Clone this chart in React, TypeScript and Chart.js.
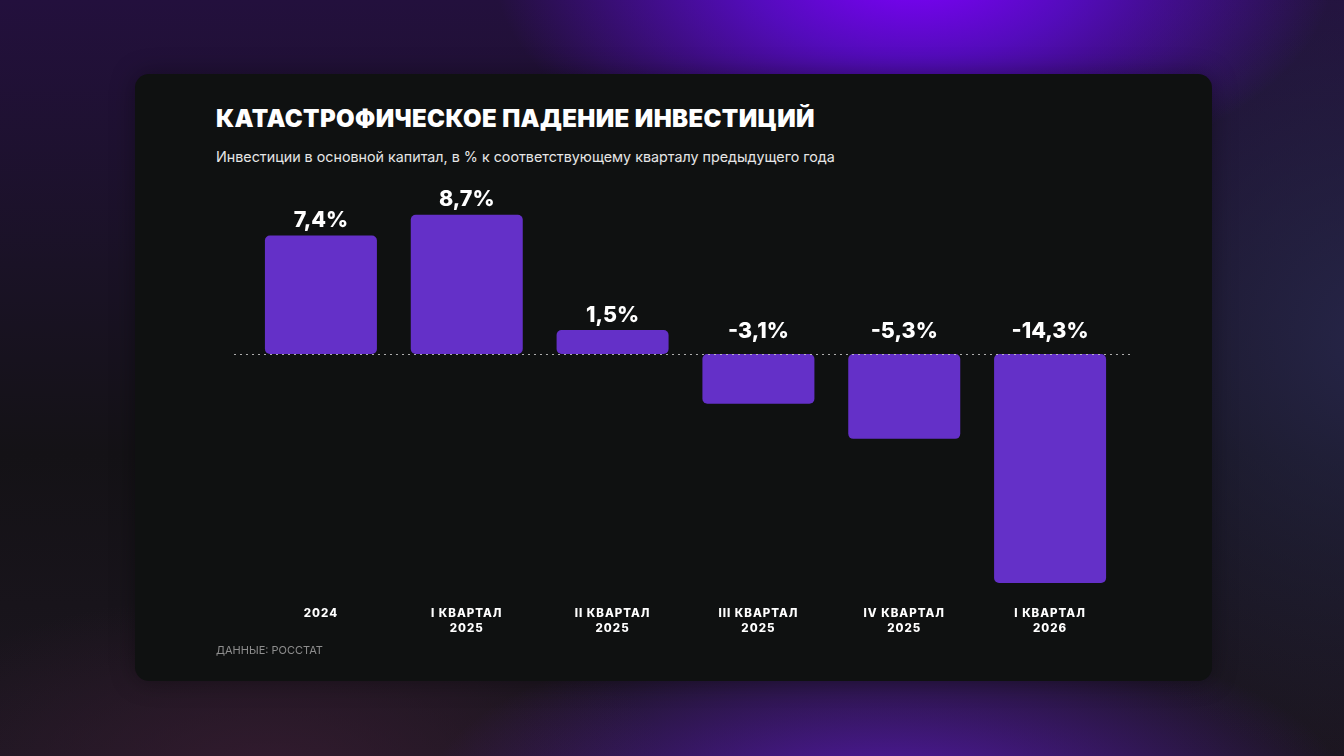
import React, { useEffect, useRef } from "react";
import { Chart, registerables } from "chart.js";

Chart.register(...registerables);

const title = "КАТАСТРОФИЧЕСКОЕ ПАДЕНИЕ ИНВЕСТИЦИЙ";
const subtitle = "Инвестиции в основной капитал, в % к соответствующему кварталу предыдущего года";
const source = "ДАННЫЕ: РОССТАТ";

const categories: string[][] = [
  ["2024"],
  ["I КВАРТАЛ", "2025"],
  ["II КВАРТАЛ", "2025"],
  ["III КВАРТАЛ", "2025"],
  ["IV КВАРТАЛ", "2025"],
  ["I КВАРТАЛ", "2026"],
];
const values: number[] = [7.4, 8.7, 1.5, -3.1, -5.3, -14.3];

const BAR_COLOR = "#6430c8";
const FONT = "Inter, 'Noto Sans', sans-serif";

const fmt = (v: number) => v.toFixed(1).replace(".", ",") + "%";

const overlayPlugin = {
  id: "overlay",
  beforeDraw(chart: any) {
    chart.ctx.letterSpacing = "1px";
  },
  beforeDatasetsDraw(chart: any) {
    chart.ctx.letterSpacing = "0px";
  },
  afterDatasetsDraw(chart: any) {
    const { ctx, chartArea } = chart;
    const y = chart.scales.y.getPixelForValue(0);
    ctx.save();
    ctx.letterSpacing = "0px";
    ctx.strokeStyle = "rgba(200,200,200,0.85)";
    ctx.lineWidth = 1;
    ctx.setLineDash([2, 4]);
    ctx.beginPath();
    ctx.moveTo(chartArea.left - 14, Math.round(y) + 0.5);
    ctx.lineTo(chartArea.right + 9, Math.round(y) + 0.5);
    ctx.stroke();
    ctx.setLineDash([]);

    const meta = chart.getDatasetMeta(0);
    ctx.fillStyle = "#ffffff";
    ctx.font = `800 21.5px ${FONT}`;
    ctx.textAlign = "center";
    ctx.textBaseline = "middle";
    meta.data.forEach((bar: any, i: number) => {
      const v = values[i];
      const ty = v >= 0 ? bar.y - 15 : y - 23;
      ctx.fillText(fmt(v), bar.x, ty);
    });
    ctx.restore();
  },
};

export default function App() {
  const ref = useRef<HTMLCanvasElement | null>(null);

  useEffect(() => {
    if (!ref.current) return;
    const chart = new Chart(ref.current, {
      type: "bar",
      data: {
        labels: categories,
        datasets: [
          {
            data: values,
            backgroundColor: BAR_COLOR,
            borderRadius: 5,
            borderSkipped: false,
            categoryPercentage: 1,
            barPercentage: 0.768,
          },
        ],
      },
      options: {
        animation: false,
        responsive: true,
        maintainAspectRatio: false,
        layout: { padding: { left: 113, right: 89, top: 24, bottom: 6 } },
        plugins: {
          legend: { display: false },
          tooltip: { enabled: false },
        },
        scales: {
          x: {
            grid: { display: false, drawTicks: false },
            border: { display: false },
            ticks: {
              color: "#ffffff",
              padding: 12,
              font: { family: FONT, size: 11.5, weight: 800, lineHeight: 1.3 },
            },
          },
          y: {
            display: false,
            min: -15,
            max: 10,
            grid: { display: false },
          },
        },
      },
      plugins: [overlayPlugin],
    });
    return () => chart.destroy();
  }, []);

  return (
    <div
      style={{
        position: "fixed",
        inset: 0,
        overflow: "hidden",
        background:
          "radial-gradient(ellipse 420px 220px at 68% -30px, rgba(128,0,255,1) 0%, rgba(100,10,230,0.75) 40%, rgba(60,10,140,0) 100%)," +
          "radial-gradient(ellipse 460px 170px at 66% 105%, rgba(95,25,200,0.8) 0%, rgba(60,20,130,0) 100%)," +
          "radial-gradient(ellipse 380px 420px at 102% 45%, rgba(40,40,78,0.85) 0%, rgba(30,30,60,0) 100%)," +
          "radial-gradient(ellipse 400px 180px at 20% 102%, rgba(55,28,50,0.8) 0%, rgba(40,20,40,0) 100%)," +
          "linear-gradient(180deg, #23103d 0%, #1a1226 35%, #141216 60%, #1c1620 100%)",
        fontFamily: FONT,
      }}
    >
      <div
        style={{
          position: "absolute",
          left: 135,
          top: 74,
          width: 1077,
          height: 607,
          borderRadius: 14,
          background: "#0f1111",
          boxShadow: "0 0 24px rgba(0,0,0,0.35)",
        }}
      >
        <div
          style={{
            position: "absolute",
            left: 81,
            top: 33,
            fontSize: 24,
            lineHeight: "24px",
            fontWeight: 900,
            color: "#ffffff",
            whiteSpace: "nowrap",
            letterSpacing: 0.38,
          }}
        >
          {title}
        </div>
        <div
          style={{
            position: "absolute",
            left: 81,
            top: 75,
            fontSize: 14.3,
            lineHeight: "16px",
            fontWeight: 400,
            color: "#e6e6e6",
            whiteSpace: "nowrap",
          }}
        >
          {subtitle}
        </div>
        <div
          style={{
            position: "absolute",
            left: 0,
            top: 96,
            width: 1077,
            height: 484,
          }}
        >
          <canvas ref={ref} />
        </div>
        <div
          style={{
            position: "absolute",
            left: 81,
            top: 570,
            fontSize: 11,
            lineHeight: "12px",
            fontWeight: 400,
            color: "#8e8e8e",
            whiteSpace: "nowrap",
          }}
        >
          {source}
        </div>
      </div>
    </div>
  );
}
